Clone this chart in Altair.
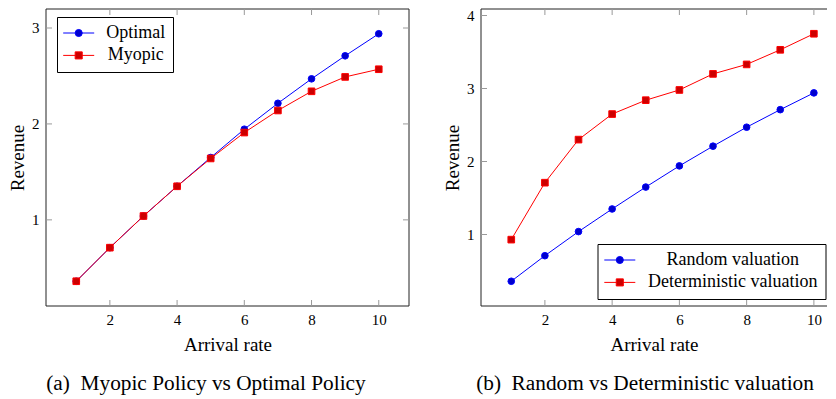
import altair as alt
import pandas as pd

# ---------------- data ----------------
rate = [1, 2, 3, 4, 5, 6, 7, 8, 9, 10]
optimal = [0.36, 0.71, 1.04, 1.35, 1.65, 1.945, 2.215, 2.47, 2.71, 2.94]
myopic = [0.36, 0.71, 1.04, 1.35, 1.64, 1.91, 2.14, 2.34, 2.49, 2.57]
random_val = [0.36, 0.71, 1.04, 1.35, 1.65, 1.94, 2.21, 2.47, 2.71, 2.94]
determ_val = [0.93, 1.71, 2.30, 2.65, 2.84, 2.98, 3.20, 3.33, 3.53, 3.75]

names_a = ["Optimal", "Myopic"]
names_b = ["Random valuation", "Deterministic valuation"]
x_ticks = [2, 4, 6, 8, 10]
y_ticks_a = [1, 2, 3]
y_ticks_b = [1, 2, 3, 4]
caption_a = "(a)\u2002Myopic Policy vs Optimal Policy"
caption_b = "(b)\u2002Random vs Deterministic valuation"

# ---------------- style ----------------
FONT = "Liberation Serif"
BLUE, BLUE_FILL = "#0000ff", "#0000cc"
RED, RED_FILL = "#ff0000", "#cc0000"
FRAME = "#222222"
TICK = "#999999"
H = 297


def long_df(names, s1, s2):
    rows = []
    for n, vals in zip(names, [s1, s2]):
        for r, v in zip(rate, vals):
            # "line_key" only feeds the (label-less) line-segment legend
            rows.append({"rate": r, "value": v, "series": n, "line_key": n + " line"})
    return pd.DataFrame(rows)


def panel(df, names, xdom, ydom, yticks, width, caption, dx,
          lx, ly, sym_off, lab_off, right_frame):
    xs = alt.Scale(domain=xdom, nice=False, zero=False)
    ys = alt.Scale(domain=ydom, nice=False, zero=False)
    one = alt.Chart(pd.DataFrame({"k": [0]}))
    xt = alt.Chart(pd.DataFrame({"rate": x_ticks}))
    yt = alt.Chart(pd.DataFrame({"value": yticks}))

    def X(axis=None):
        return alt.X("rate:Q", scale=xs, axis=axis)

    def Y(axis=None):
        return alt.Y("value:Q", scale=ys, axis=axis)

    x_axis = alt.Axis(orient="bottom", values=x_ticks, ticks=False, domain=False,
                      grid=False, labelFont=FONT, labelFontSize=15, labelColor="black",
                      labelPadding=6, title="Arrival rate", titleFont=FONT,
                      titleFontSize=19, titleFontWeight="normal", titleColor="black",
                      titlePadding=8)
    y_axis = alt.Axis(orient="left", values=yticks, ticks=False, domain=False,
                      grid=False, labelFont=FONT, labelFontSize=15, labelColor="black",
                      labelPadding=7, title="Revenue", titleFont=FONT,
                      titleFontSize=19, titleFontWeight="normal", titleColor="black",
                      titlePadding=4)

    # legend line segments (no labels, no box)
    line_names = [n + " line" for n in names]
    line_leg = alt.Legend(title=None, orient="none", legendX=lx, legendY=ly + 7,
                          symbolType="stroke", symbolSize=961, symbolStrokeWidth=1,
                          symbolOffset=sym_off, clipHeight=18, rowPadding=4.4,
                          padding=0, labelExpr="''", labelFont=FONT,
                          labelFontSize=18)
    lines = alt.Chart(df).mark_line(strokeWidth=1).encode(
        x=X(x_axis), y=Y(y_axis),
        color=alt.Color("line_key:N", scale=alt.Scale(domain=line_names, range=[BLUE, RED]),
                        legend=line_leg),
    )

    # frame (top, bottom, left, and right only for the complete panel)
    frame = [
        one.mark_rule(color=FRAME, strokeWidth=1).encode(y=alt.datum(ydom[1], scale=ys, axis=None)),
        one.mark_rule(color=FRAME, strokeWidth=1).encode(y=alt.datum(ydom[0], scale=ys, axis=None)),
        one.mark_rule(color=FRAME, strokeWidth=1).encode(x=alt.datum(xdom[0], scale=xs, axis=None)),
    ]
    if right_frame:
        frame.append(one.mark_rule(color=FRAME, strokeWidth=1).encode(
            x=alt.datum(xdom[1], scale=xs, axis=None)))

    # inward ticks on every framed side
    ticks = [
        xt.mark_tick(orient="vertical", size=6, thickness=1, color=TICK, yOffset=-3, opacity=1)
          .encode(x=X(), y=alt.datum(ydom[0], scale=ys, axis=None)),
        xt.mark_tick(orient="vertical", size=6, thickness=1, color=TICK, yOffset=3, opacity=1)
          .encode(x=X(), y=alt.datum(ydom[1], scale=ys, axis=None)),
        yt.mark_tick(orient="horizontal", size=6, thickness=1, color=TICK, xOffset=3, opacity=1)
          .encode(y=Y(), x=alt.datum(xdom[0], scale=xs, axis=None)),
    ]
    if right_frame:
        ticks.append(
            yt.mark_tick(orient="horizontal", size=6, thickness=1, color=TICK, xOffset=-3, opacity=1)
              .encode(y=Y(), x=alt.datum(xdom[1], scale=xs, axis=None)))

    # markers with the boxed legend
    mark_leg = alt.Legend(title=None, orient="none", legendX=lx, legendY=ly,
                          symbolSize=50, symbolStrokeWidth=1, symbolOffset=sym_off,
                          labelOffset=lab_off, labelAlign="center", labelFont=FONT,
                          labelFontSize=18, labelColor="black", labelLimit=300,
                          padding=7, rowPadding=4.4, strokeColor="black")
    points = alt.Chart(df).mark_point(filled=True, size=44, strokeWidth=1, opacity=1).encode(
        x=X(), y=Y(),
        shape=alt.Shape("series:N", scale=alt.Scale(domain=names, range=["circle", "square"]),
                        legend=mark_leg),
        fill=alt.Fill("series:N", scale=alt.Scale(domain=names, range=[BLUE_FILL, RED_FILL]),
                      legend=mark_leg),
        stroke=alt.Stroke("series:N", scale=alt.Scale(domain=names, range=[BLUE, RED]),
                          legend=mark_leg),
    )

    return alt.layer(lines, *frame, *ticks, points).resolve_axis(
        x="independent", y="independent"
    ).properties(
        width=width, height=H,
        title=alt.TitleParams(text=caption, orient="bottom", anchor="middle",
                              dx=dx, offset=19, font=FONT, fontSize=21.3,
                              fontWeight="normal", color="black"),
    )


left = panel(long_df(names_a, optimal, myopic), names_a, [0.1, 10.9],
             [0.102, 3.198], y_ticks_a, 363, caption_a, -21.5,
             11, 8, 5.7, 48, True)
right = panel(long_df(names_b, random_val, determ_val), names_b, [0.1, 10.39],
              [0.021, 4.089], y_ticks_b, 346, caption_b, -9,
              116.5, 235, 6.3, 104, False)

chart = alt.hconcat(left, right, spacing=33).resolve_scale(
    color="independent", shape="independent", fill="independent",
    stroke="independent"
).resolve_legend(
    color="independent", shape="independent", fill="independent",
    stroke="independent"
).properties(
    padding=0, background="white"
).configure_view(stroke=None)

chart.save("out.html", embed_options={"renderer": "svg", "actions": False})
